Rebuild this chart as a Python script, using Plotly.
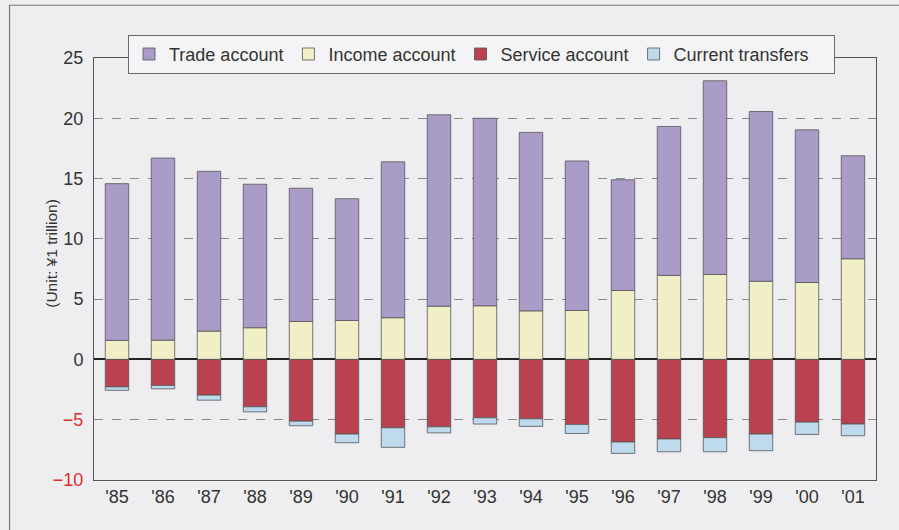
import plotly.graph_objects as go

years = ["'85", "'86", "'87", "'88", "'89", "'90", "'91", "'92", "'93", "'94",
         "'95", "'96", "'97", "'98", "'99", "'00", "'01"]
trade = [13.0, 15.1, 13.25, 11.9, 11.05, 10.1, 12.93, 15.87, 15.55, 14.8,
         12.4, 9.18, 12.35, 16.06, 14.07, 12.66, 8.54]
income = [1.58, 1.6, 2.35, 2.63, 3.15, 3.23, 3.46, 4.42, 4.45, 4.03,
          4.06, 5.72, 6.97, 7.05, 6.49, 6.38, 8.35]
service = [-2.28, -2.16, -2.96, -3.93, -5.12, -6.19, -5.67, -5.59, -4.84, -4.93,
           -5.39, -6.85, -6.6, -6.49, -6.19, -5.2, -5.36]
transfers = [-0.28, -0.28, -0.42, -0.42, -0.38, -0.72, -1.62, -0.5, -0.52, -0.62,
             -0.75, -0.94, -1.06, -1.17, -1.38, -1.02, -0.97]
y_ticks = [-10, -5, 0, 5, 10, 15, 20, 25]

xs = list(range(len(years)))
FONT = "Liberation Sans, Arial, Helvetica, sans-serif"
TXT = "#333333"
BG = "#EEEEF1"
edge = dict(color="#555555", width=0.8)

fig = go.Figure()
fig.add_bar(x=xs, y=income, name="Income account", marker=dict(color="#F1EFC6", line=edge), legendrank=2)
fig.add_bar(x=xs, y=trade, name="Trade account", marker=dict(color="#A99DC8", line=edge), legendrank=1)
fig.add_bar(x=xs, y=service, name="Service account", marker=dict(color="#B94150", line=edge), legendrank=3)
fig.add_bar(x=xs, y=transfers, name="Current transfers\u00a0\u00a0\u00a0\u00a0",
            marker=dict(color="#BEDAEC", line=edge), legendrank=4)

ymin, ymax = -10, 25
def ylab(v):
    s = str(v).replace("-", "\u2212")
    if v < 0:
        return f"<span style='color:#D8322E'>{s}</span>"
    return s

fig.update_layout(
    width=899, height=530,
    margin=dict(l=94, r=23, t=58, b=50, autoexpand=False),
    paper_bgcolor=BG, plot_bgcolor=BG,
    barmode="relative", bargap=0.49,
    font=dict(family=FONT, size=18, color=TXT),
    showlegend=True,
    legend=dict(orientation="h", x=0.0435, xanchor="left", y=1.055, yanchor="top",
                bgcolor="#F4F4F6", bordercolor="#6A6A6A", borderwidth=1,
                font=dict(size=18, color=TXT), traceorder="normal",
                itemwidth=30),
    xaxis=dict(range=[-0.5, len(years) - 0.5], tickvals=xs, ticktext=years,
               showline=True, linecolor="#555555", linewidth=1, mirror=True,
               showgrid=False, zeroline=False, ticks="", ticklabelstandoff=0,
               automargin=False, tickfont=dict(size=18, color=TXT)),
    xaxis2=dict(range=[-0.5, len(years) - 0.5], overlaying="x", anchor="free",
                position=(0 - ymin) / (ymax - ymin),
                tickvals=[i + 0.5 for i in xs[:-1]], ticks="inside", ticklen=6,
                tickcolor="#333333", tickwidth=1.5, showticklabels=False,
                showline=False, showgrid=False, zeroline=False, automargin=False),
    yaxis=dict(range=[ymin, ymax], tickvals=y_ticks, ticktext=[ylab(v) for v in y_ticks],
               showline=True, linecolor="#555555", linewidth=1, mirror=True,
               showgrid=True, gridcolor="#8A8A8A", griddash="dash", gridwidth=1,
               zeroline=True, zerolinecolor="#222222", zerolinewidth=1.5,
               ticks="", ticklabelstandoff=6, automargin=False,
               tickfont=dict(size=18, color=TXT)),
    annotations=[dict(text="(Unit: \u00a51 trillion)", xref="paper", yref="paper",
                      x=-0.054, y=0.538, textangle=-90, showarrow=False,
                      xanchor="center", yanchor="middle",
                      font=dict(size=15.5, color=TXT, family=FONT))],
    shapes=[dict(type="rect", xref="paper", yref="paper",
                 x0=-0.108, x1=1.4, y0=-0.4, y1=1.125,
                 line=dict(color="#7A7A7A", width=1.2), fillcolor="rgba(0,0,0,0)",
                 layer="below")],
)

fig.write_html("out.html", config={"displayModeBar": False},
               post_script="document.body.style.margin='0px';document.body.style.overflow='hidden';")
